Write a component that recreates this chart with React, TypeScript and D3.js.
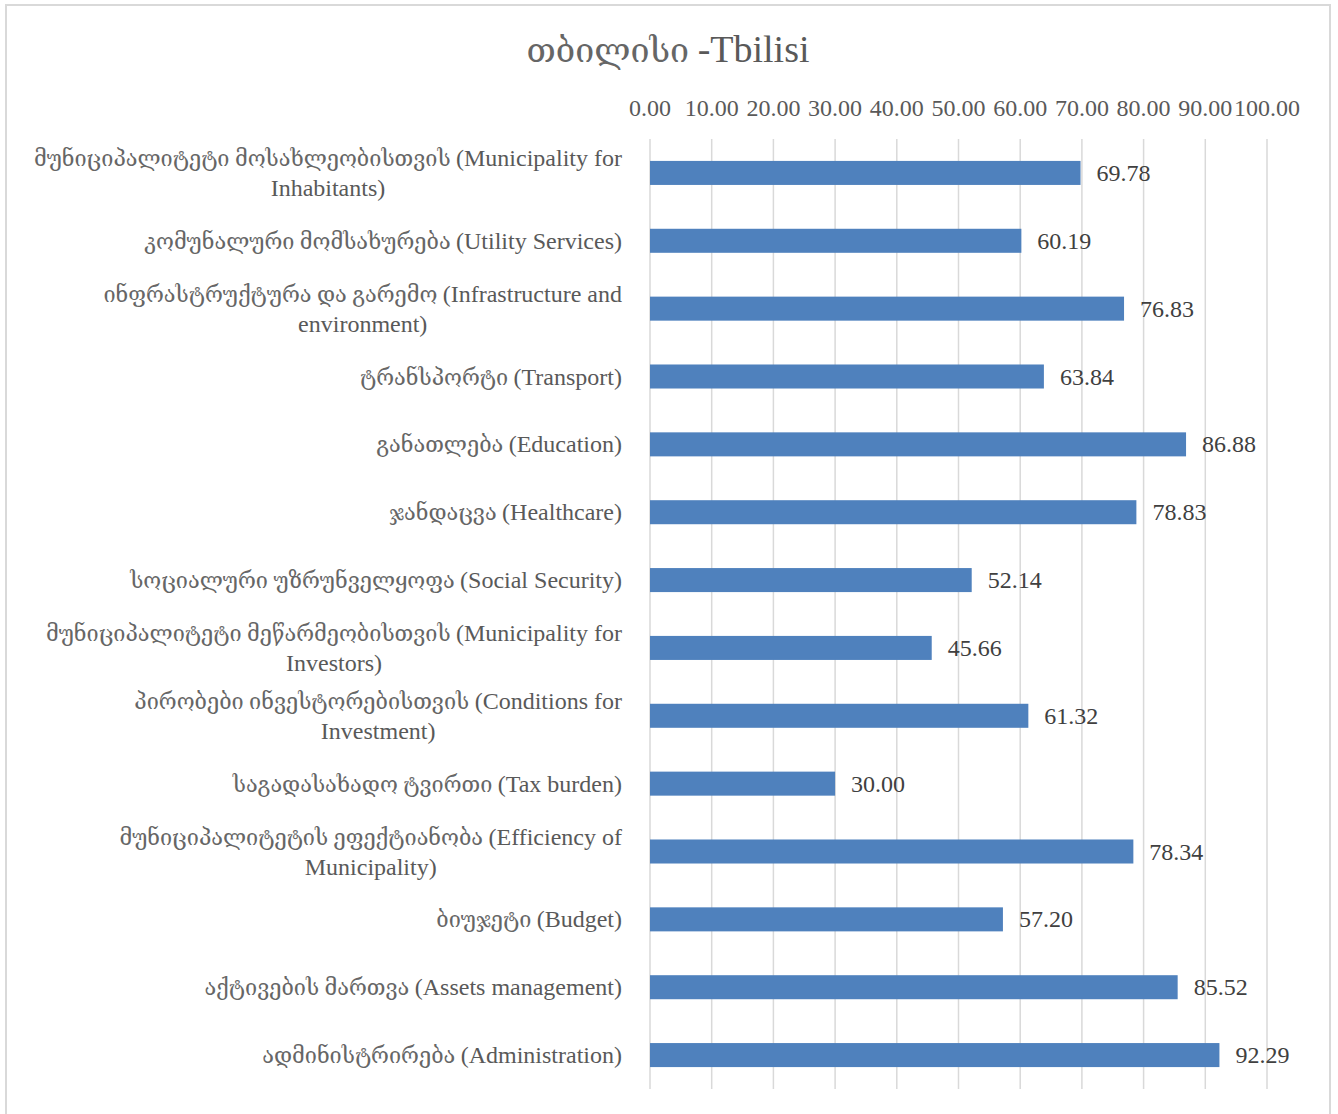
import { useRef, useEffect } from "react";
import { select, scaleBand, scaleLinear, range } from "d3";

// category labels, already broken into the lines Excel wrapped them to
const labelLines: string[][] = [
    ["მუნიციპალიტეტი მოსახლეობისთვის (Municipality for", "Inhabitants)"],
    ["კომუნალური მომსახურება (Utility Services)"],
    ["ინფრასტრუქტურა და გარემო (Infrastructure and", "environment)"],
    ["ტრანსპორტი (Transport)"],
    ["განათლება (Education)"],
    ["ჯანდაცვა (Healthcare)"],
    ["სოციალური უზრუნველყოფა (Social Security)"],
    ["მუნიციპალიტეტი მეწარმეობისთვის (Municipality for", "Investors)"],
    ["პირობები ინვესტორებისთვის (Conditions for", "Investment)"],
    ["საგადასახადო ტვირთი (Tax burden)"],
    ["მუნიციპალიტეტის ეფექტიანობა (Efficiency of", "Municipality)"],
    ["ბიუჯეტი (Budget)"],
    ["აქტივების მართვა (Assets management)"],
    ["ადმინისტრირება (Administration)"],
];

const scores = [
    69.78, 60.19, 76.83, 63.84, 86.88, 78.83, 52.14, 45.66, 61.32, 30.0, 78.34,
    57.2, 85.52, 92.29,
];

const tickValues = [0, 10, 20, 30, 40, 50, 60, 70, 80, 90, 100];

const title = "თბილისი -Tbilisi";

const FONT = "'Liberation Serif', 'DejaVu Serif', serif";
const GEO = /[\u10A0-\u10FF]/;

// split a line into runs of Georgian / non-Georgian text, so each can get its own size
function runs(line: string) {
    const out: { geo: boolean; text: string }[] = [];
    for (const ch of line) {
        const geo = GEO.test(ch) || (ch === " " && out.length > 0 && out[out.length - 1].geo);
        const last = out[out.length - 1];
        if (last && last.geo === geo) last.text += ch;
        else out.push({ geo, text: ch });
    }
    return out;
}

export default function App() {
    const ref = useRef<SVGSVGElement>(null);

    const width = 1338;
    const height = 1114;
    const plot = { left: 650, right: 1267, top: 139, bottom: 1089 };

    useEffect(() => {
        if (!ref.current) return;
        const svg = select(ref.current);
        svg.selectAll("*").remove();

        const x = scaleLinear().domain([0, 100]).range([plot.left, plot.right]);
        const y = scaleBand<number>()
            .domain(range(scores.length))
            .range([plot.top, plot.bottom])
            .paddingInner(0.646)
            .paddingOuter(0.323);

        // chart border
        svg.append("rect")
            .attr("x", 6)
            .attr("y", 5)
            .attr("width", 1324)
            .attr("height", 1140)
            .attr("fill", "white")
            .attr("stroke", "#d9d9d9")
            .attr("stroke-width", 2);

        const t = svg.append("text")
            .attr("x", 668)
            .attr("y", 62)
            .attr("text-anchor", "middle")
            .attr("font-family", FONT)
            .attr("fill", "#595959");
        runs(title).forEach((r) =>
            t.append("tspan")
                .attr("font-size", r.geo ? 34 : 38)
                .attr("fill", r.geo ? "#666" : "#595959")
                .text(r.text)
        );

        // gridlines + top tick labels
        svg.append("g")
            .selectAll("line")
            .data(tickValues)
            .join("line")
            .attr("x1", (d) => x(d))
            .attr("x2", (d) => x(d))
            .attr("y1", plot.top)
            .attr("y2", plot.bottom)
            .attr("stroke", "#d9d9d9")
            .attr("stroke-width", 1.5);

        svg.append("g")
            .selectAll("text")
            .data(tickValues)
            .join("text")
            .attr("x", (d) => x(d))
            .attr("y", 116)
            .attr("text-anchor", "middle")
            .attr("font-family", FONT)
            .attr("font-size", 24)
            .attr("fill", "#595959")
            .text((d) => d.toFixed(2));

        const step = y.step();
        const center = (i: number) => plot.top + step * i + step / 2;

        svg.append("g")
            .selectAll("rect")
            .data(scores)
            .join("rect")
            .attr("x", x(0))
            .attr("y", (_, i) => y(i)!)
            .attr("width", (d) => x(d) - x(0))
            .attr("height", y.bandwidth())
            .attr("fill", "#4f81bd");

        svg.append("g")
            .selectAll("text")
            .data(scores)
            .join("text")
            .attr("x", (d) => x(d) + 16)
            .attr("y", (_, i) => center(i) + 8)
            .attr("font-family", FONT)
            .attr("font-size", 24)
            .attr("fill", "#404040")
            .text((d) => d.toFixed(2));

        // category labels: block right-aligned at 622, lines centred inside it
        const labels = svg.append("g");
        labelLines.forEach((lines, i) => {
            const g = labels.append("g");
            const nodes = lines.map((line, k) => {
                const txt = g.append("text")
                    .attr("y", center(i) + 8 + (k - (lines.length - 1) / 2) * 30)
                    .attr("text-anchor", "middle")
                    .attr("font-family", FONT)
                    .attr("fill", "#595959");
                runs(line).forEach((r) =>
                    txt.append("tspan")
                        .attr("font-size", r.geo ? 21.7 : 24)
                        .attr("fill", r.geo ? "#666" : "#595959")
                        .text(r.text)
                );
                return txt;
            });
            const widest = Math.max(
                ...nodes.map((n) => (n.node() as SVGTextElement).getComputedTextLength())
            );
            nodes.forEach((n) => n.attr("x", 622 - widest / 2));
        });
    }, []);

    return (
        <svg
            ref={ref}
            width={width}
            height={height}
            style={{ position: "absolute", left: 0, top: 0 }}
        />
    );
}
